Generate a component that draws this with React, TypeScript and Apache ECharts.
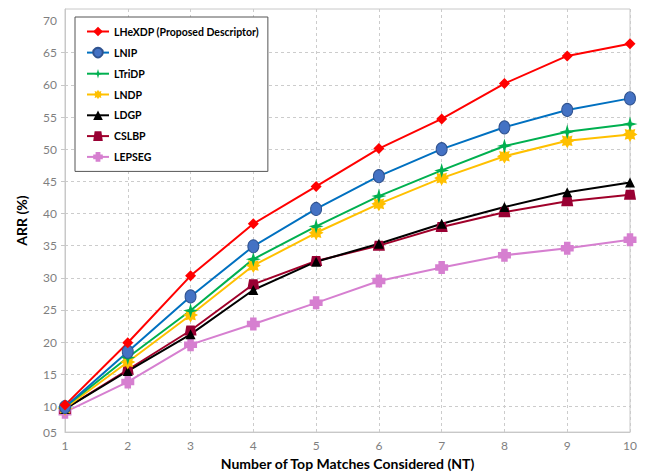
import React, { useEffect, useRef } from "react";
import * as echarts from "echarts";

const xValues = [1, 2, 3, 4, 5, 6, 7, 8, 9, 10];
const LHeXDP = [10.2, 19.9, 30.3, 38.4, 44.2, 50.1, 54.7, 60.2, 64.5, 66.4];
const LNIP = [9.9, 18.5, 27.1, 34.9, 40.7, 45.8, 50.0, 53.4, 56.1, 57.9];
const LTriDP = [9.9, 17.6, 24.9, 32.9, 38.0, 42.7, 46.7, 50.5, 52.7, 53.9];
const LNDP = [9.7, 16.9, 24.2, 31.9, 37.0, 41.5, 45.5, 48.9, 51.3, 52.3];
const LDGP = [9.6, 15.5, 21.2, 28.1, 32.5, 35.3, 38.4, 41.0, 43.3, 44.8];
const CSLBP = [9.6, 15.7, 21.8, 29.0, 32.6, 35.0, 37.9, 40.2, 41.9, 42.9];
const LEPSEG = [9.1, 13.8, 19.6, 22.8, 26.1, 29.5, 31.6, 33.5, 34.6, 35.9];

const seriesNames = [
  "LHeXDP (Proposed Descriptor)",
  "LNIP",
  "LTriDP",
  "LNDP",
  "LDGP",
  "CSLBP",
  "LEPSEG",
];

const yTickValues = [10, 15, 20, 25, 30, 35, 40, 45, 50, 55, 60, 65];
const yLabelValues = [6, 10, 15, 20, 25, 30, 35, 40, 45, 50, 55, 60, 65, 70];
const yLabelTexts = ["05", "10", "15", "20", "25", "30", "35", "40", "45", "50", "55", "60", "65", "70"];

const STAR4 = "path://M0,-10 L2.2,-2.2 L10,0 L2.2,2.2 L0,10 L-2.2,2.2 L-10,0 L-2.2,-2.2 Z";
const STAR8 =
  "path://M10,0 L5.8,2.4 L7.07,7.07 L2.4,5.8 L0,10 L-2.4,5.8 L-7.07,7.07 L-5.8,2.4 L-10,0 L-5.8,-2.4 L-7.07,-7.07 L-2.4,-5.8 L0,-10 L2.4,-5.8 L7.07,-7.07 L5.8,-2.4 Z";
const PLUS = "path://M-4.5,-9 L4.5,-9 L4.5,-4.5 L9,-4.5 L9,4.5 L4.5,4.5 L4.5,9 L-4.5,9 L-4.5,4.5 L-9,4.5 L-9,-4.5 L-4.5,-4.5 Z";
const TRAP = "path://M-3.5,-5 L3.5,-5 L5,5 L-5,5 Z";

const FONT = "Lato, 'Liberation Sans', sans-serif";

export default function App() {
  const ref = useRef<HTMLDivElement>(null);
  useEffect(() => {
    if (!ref.current) return;
    const chart = echarts.init(ref.current, null, { renderer: "svg" });
    const mk = (
      name: string,
      values: number[],
      lineColor: string,
      markColor: string,
      symbol: string,
      size: number | number[],
      border?: string
    ) => ({
      name,
      type: "line",
      data: xValues.map((x, i) => [x, values[i]]),
      symbol,
      symbolSize: size,
      showSymbol: true,
      lineStyle: { color: lineColor, width: 2 },
      itemStyle: { color: markColor, borderColor: border || markColor, borderWidth: border ? 1 : 0 },
      emphasis: { disabled: true },
    });
    chart.setOption({
      animation: false,
      grid: {
        left: 65,
        right: 18,
        top: 9,
        bottom: 42,
        show: true,
        borderColor: "#c8c8c8",
        borderWidth: 1,
      },
      legend: {
        orient: "vertical",
        left: 75,
        top: 17,
        backgroundColor: "#ffffff",
        borderColor: "#555555",
        borderWidth: 1,
        padding: [9, 9, 9, 11],
        itemGap: 9.8,
        itemWidth: 22,
        itemHeight: 12,
        data: seriesNames,
        textStyle: {
          fontFamily: FONT,
          fontWeight: "bold",
          fontSize: 10.5,
          color: "#000000",
        },
      },
      xAxis: {
        type: "value",
        min: 1,
        max: 10,
        interval: 1,
        name: "Number of Top Matches Considered (NT)",
        nameLocation: "middle",
        nameGap: 22,
        nameTextStyle: { fontFamily: FONT, fontWeight: "bold", fontSize: 14, color: "#000000" },
        axisLine: { show: true, lineStyle: { color: "#c8c8c8", width: 1 } },
        axisTick: { show: false },
        axisLabel: { color: "#7f7f7f", fontSize: 12, fontFamily: FONT, margin: 7 },
        splitLine: { show: true, lineStyle: { color: "#cccccc", type: [3, 3], width: 1 } },
      },
      yAxis: {
        type: "value",
        min: 6,
        max: 71.8,
        name: "ARR (%)",
        nameLocation: "middle",
        nameGap: 37,
        nameTextStyle: { fontFamily: FONT, fontWeight: "bold", fontSize: 14, color: "#000000" },
        axisLine: { show: true, lineStyle: { color: "#c8c8c8", width: 1 } },
        axisTick: { show: true, length: 4, customValues: yTickValues, lineStyle: { color: "#c8c8c8" } },
        axisLabel: {
          color: "#7f7f7f",
          fontSize: 12,
          fontFamily: FONT,
          margin: 8,
          customValues: yLabelValues,
          formatter: (v: number) => {
            const i = yLabelValues.indexOf(v);
            return i >= 0 ? yLabelTexts[i] : "";
          },
        },
        splitLine: { show: true, lineStyle: { color: "#cccccc", type: [3, 3], width: 1 } },
      },
      series: [
        mk(seriesNames[6], LEPSEG, "#d67fd0", "#d67fd0", PLUS, 13),
        mk(seriesNames[5], CSLBP, "#a0002a", "#990033", TRAP, [12, 10]),
        mk(seriesNames[4], LDGP, "#000000", "#000000", "triangle", 10),
        mk(seriesNames[3], LNDP, "#ffc000", "#ffc000", STAR8, 15),
        mk(seriesNames[2], LTriDP, "#00b050", "#00b050", STAR4, 15),
        mk(seriesNames[1], LNIP, "#0070c0", "#4472c4", "circle", [11, 13], "#2f528f"),
        mk(seriesNames[0], LHeXDP, "#ff0000", "#ff0000", "diamond", 11),
      ],
    });
    return () => chart.dispose();
  }, []);
  return <div ref={ref} style={{ width: 648, height: 475, position: "absolute", left: 0, top: 0 }} />;
}
